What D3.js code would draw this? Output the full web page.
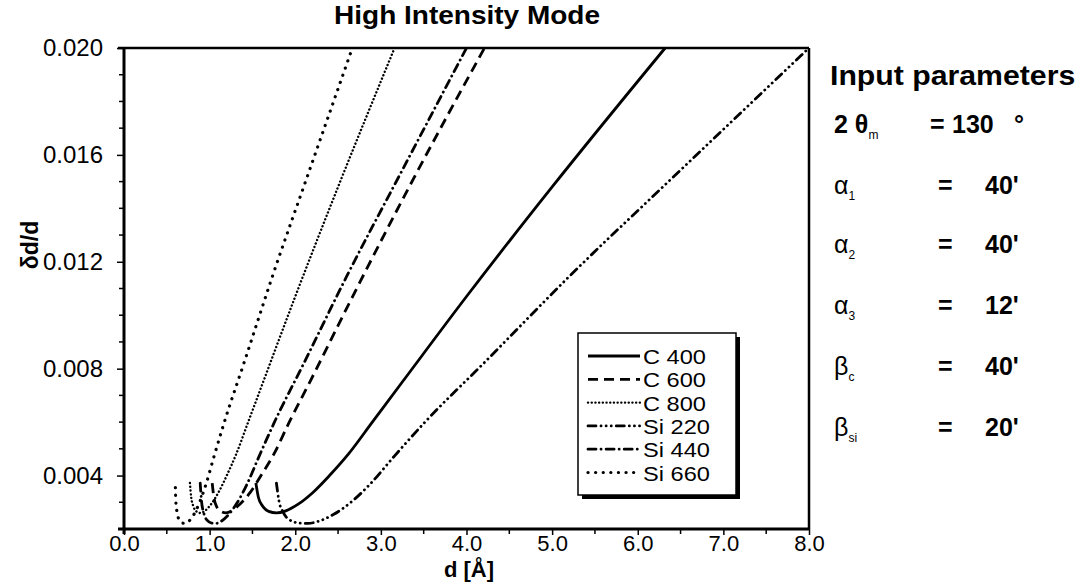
<!DOCTYPE html>
<html><head><meta charset="utf-8">
<script src="https://cdn.jsdelivr.net/npm/d3@7"></script>
<style>
html,body{margin:0;padding:0;background:#fff;}
svg{display:block;font-family:"Liberation Sans",Arial,Helvetica,sans-serif;}
</style></head>
<body><svg id="c" width="1085" height="583"></svg>
<script>
// ---- data (d in Å, δd/d) ----
const seriesNames = ["C 400","C 600","C 800","Si 220","Si 440","Si 660"];
const c400 = [[1.54,0.00372],[1.57,0.00318],[1.62,0.00285],[1.69,0.00266],[1.78,0.00260],[1.89,0.00268],[2.03,0.00292],[2.20,0.00335],[2.40,0.00400],[2.62,0.00480],[2.90,0.00600],[3.25,0.00750],[4.00,0.01070],[5.00,0.01480],[6.32,0.02000]];
const c600 = [[1.03,0.00372],[1.05,0.00318],[1.08,0.00285],[1.13,0.00266],[1.19,0.00260],[1.26,0.00268],[1.35,0.00292],[1.47,0.00335],[1.60,0.00400],[1.75,0.00480],[1.93,0.00600],[2.17,0.00750],[2.67,0.01070],[3.33,0.01480],[4.21,0.02000]];
const c800 = [[0.77,0.00372],[0.785,0.00318],[0.81,0.00285],[0.845,0.00266],[0.89,0.00260],[0.945,0.00268],[1.015,0.00292],[1.10,0.00335],[1.20,0.00400],[1.31,0.00480],[1.45,0.00600],[1.625,0.00750],[2.00,0.01070],[2.50,0.01480],[3.16,0.02000]];
const si220 = [[1.78,0.00372],[1.81,0.00305],[1.86,0.00262],[1.94,0.00233],[2.05,0.00222],[2.15,0.00221],[2.28,0.00230],[2.45,0.00255],[2.65,0.00300],[2.88,0.00370],[3.15,0.00470],[3.50,0.00595],[4.20,0.00820],[5.20,0.01145],[6.50,0.01543],[8.00,0.02000]];
const si440 = [[0.89,0.00372],[0.905,0.00305],[0.93,0.00262],[0.97,0.00233],[1.025,0.00222],[1.075,0.00221],[1.14,0.00230],[1.225,0.00255],[1.325,0.00300],[1.44,0.00370],[1.575,0.00470],[1.75,0.00595],[2.10,0.00820],[2.60,0.01145],[3.25,0.01543],[4.00,0.02000]];
const si660 = [[0.60,0.00355],[0.605,0.00305],[0.62,0.00262],[0.647,0.00233],[0.683,0.00222],[0.717,0.00221],[0.76,0.00230],[0.817,0.00255],[0.883,0.00300],[0.96,0.00370],[1.05,0.00470],[1.167,0.00595],[1.40,0.00820],[1.733,0.01145],[2.167,0.01543],[2.667,0.02000]];
const xTickValues = [0,1,2,3,4,5,6,7,8];
const xTickLabels = ["0.0","1.0","2.0","3.0","4.0","5.0","6.0","7.0","8.0"];
const yTickValues = [0.004,0.008,0.012,0.016,0.020];
const yTickLabels = ["0.004","0.008","0.012","0.016","0.020"];
const paramSymbols = [["2 θ","m"],["α","1"],["α","2"],["α","3"],["β","c"],["β","si"]];
const paramValues = ["130","40'","40'","12'","40'","20'"];

// ---- layout ----
const svg = d3.select("#c");
const L=124, R=809, T=48, B=529;
const x = d3.scaleLinear().domain([0,8]).range([L,R]);
const y = d3.scaleLinear().domain([0.002,0.020]).range([B,T]);

const styles = [
  {dash:null, w:2.8, cap:"butt"},
  {dash:"10,6", w:2.8, cap:"butt"},
  {dash:"0.1,3.6", w:2.4, cap:"round"},
  {dash:"8,5,0.1,5,0.1,5,0.1,5", w:2.8, cap:"round"},
  {dash:"8,5,0.1,5", w:2.8, cap:"round"},
  {dash:"0.1,7.5", w:3.2, cap:"round"}
];
const allSeries = [c400,c600,c800,si220,si440,si660];

// title
svg.append("text").attr("transform","translate(467,24) scale(1.12,1)").attr("text-anchor","middle")
  .attr("font-size",25).attr("font-weight","bold").text("High Intensity Mode");

// curves
const line = d3.line().x(d=>x(d[0])).y(d=>y(d[1])).curve(d3.curveMonotoneX);
const g = svg.append("g");
allSeries.forEach((s,i)=>{
  g.append("path").attr("d",line(s)).attr("fill","none").attr("stroke","#000")
   .attr("stroke-width",styles[i].w).attr("stroke-dasharray",styles[i].dash)
   .attr("stroke-linecap",styles[i].cap);
});

// frame
svg.append("line").attr("x1",L-6).attr("x2",R).attr("y1",T).attr("y2",T).attr("stroke","#000").attr("stroke-width",2.5);
svg.append("line").attr("x1",R).attr("x2",R).attr("y1",T).attr("y2",B).attr("stroke","#000").attr("stroke-width",2.5);

// axes
const xAxis = d3.axisBottom(x).tickValues(xTickValues).tickFormat((d,i)=>xTickLabels[i]).tickSize(6).tickSizeOuter(0);
const xa = svg.append("g").attr("transform",`translate(0,${B})`).call(xAxis);
xa.select(".domain").attr("stroke-width",3).attr("d",`M${L-6},0H${R}`);
xa.selectAll(".tick line").attr("stroke-width",1.5);
xa.selectAll("text").attr("font-size",22).attr("y",6).attr("dy","0.71em").attr("font-family","Liberation Sans, Arial, sans-serif");
const xMinor = d3.range(0.5,8,1);
svg.append("g").selectAll("line").data(xMinor).join("line")
  .attr("x1",d=>x(d)).attr("x2",d=>x(d)).attr("y1",B).attr("y2",B+5).attr("stroke","#000").attr("stroke-width",1.5);

const yAxis = d3.axisLeft(y).tickValues(yTickValues).tickFormat((d,i)=>yTickLabels[i]).tickSize(7).tickSizeOuter(0);
const ya = svg.append("g").attr("transform",`translate(${L},0)`).call(yAxis);
ya.select(".domain").attr("stroke-width",3).attr("d",`M0,${B+5}V${T}`);
ya.selectAll(".tick line").attr("stroke-width",1.5);
ya.selectAll("text").attr("font-size",24).attr("x",-21).attr("font-family","Liberation Sans, Arial, sans-serif");
const yMinor = d3.range(0.003,0.0200,0.001).filter(v=>Math.abs((v*1000)%4)>0.01);
svg.append("g").selectAll("line").data(yMinor).join("line")
  .attr("x1",L-5).attr("x2",L).attr("y1",d=>y(d)).attr("y2",d=>y(d)).attr("stroke","#000").attr("stroke-width",1.5);

// axis titles
svg.append("text").attr("x",469).attr("y",577).attr("text-anchor","middle")
  .attr("font-size",22).attr("font-weight","bold").text("d [Å]");
svg.append("text").attr("transform","translate(38,245) rotate(-90)").attr("text-anchor","middle")
  .attr("font-size",23).attr("font-weight","bold").text("δd/d");

// legend
const lg = svg.append("g");
const lx=578, ly=333, lw=158, lh=162;
lg.append("rect").attr("x",lx+4).attr("y",ly+4).attr("width",lw).attr("height",lh).attr("fill","#000");
lg.append("rect").attr("x",lx).attr("y",ly).attr("width",lw).attr("height",lh).attr("fill","#fff").attr("stroke","#000").attr("stroke-width",1.5);
seriesNames.forEach((n,i)=>{
  const cy = ly+23+i*23.3;
  lg.append("line").attr("x1",lx+10).attr("x2",lx+62).attr("y1",cy).attr("y2",cy)
    .attr("stroke","#000").attr("stroke-width",styles[i].w).attr("stroke-dasharray",styles[i].dash).attr("stroke-linecap",styles[i].cap);
  lg.append("text").attr("transform",`translate(${lx+65},${cy+8}) scale(1.18,1)`).attr("font-size",20).text(n);
});

// parameters
svg.append("text").attr("transform","translate(830,85) scale(1.12,1)").attr("font-size",27).attr("font-weight","bold").text("Input parameters");
const rowY = [133,194,253,314,375,436];
paramSymbols.forEach((p,i)=>{
  const t = svg.append("text").attr("x",834).attr("y",rowY[i]).attr("font-size",25);
  t.append("tspan").attr("font-weight", i===0 ? "bold" : "normal").text(p[0]);
  t.append("tspan").attr("font-size",12).attr("dy",6).text(p[1]);
  const ex = i===0 ? 930 : 938;
  const vx = i===0 ? 952 : 985;
  svg.append("text").attr("x",ex).attr("y",rowY[i]).attr("font-size",25).attr("font-weight","bold").text("=");
  svg.append("text").attr("x",vx).attr("y",rowY[i]).attr("font-size",25).attr("font-weight","bold").text(paramValues[i]);
  if(i===0){
    svg.append("text").attr("x",1014).attr("y",rowY[i]).attr("font-size",25).attr("font-weight","bold").text("°");
  }
});
</script></body></html>
